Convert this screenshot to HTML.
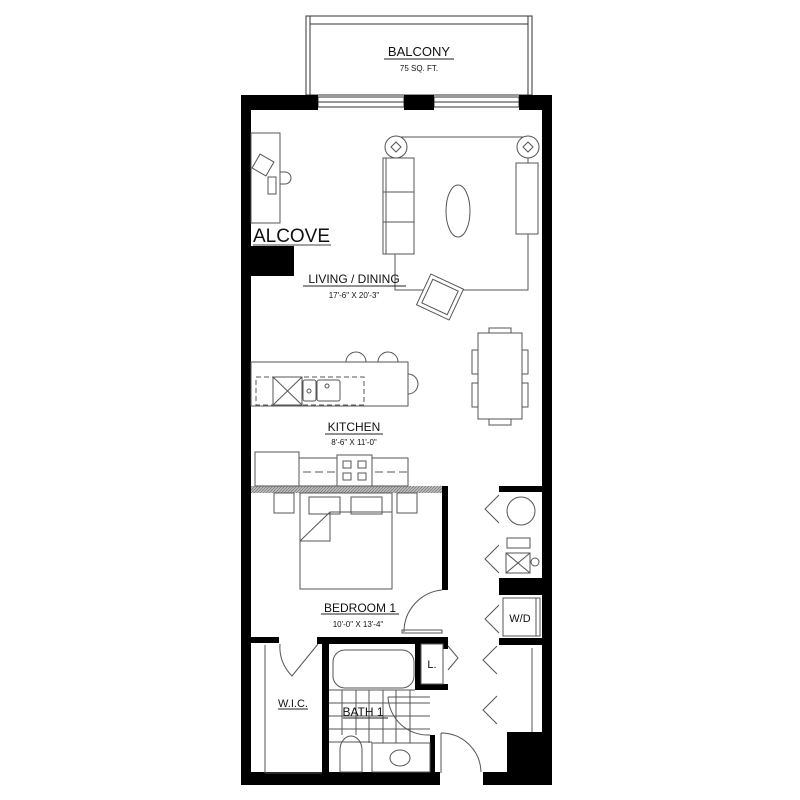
<!DOCTYPE html>
<html><head><meta charset="utf-8"><style>
html,body{margin:0;padding:0;background:#fff;}
svg{display:block;}
text{font-family:"Liberation Sans",sans-serif;fill:#111;}
</style></head><body>
<svg width="800" height="800" viewBox="0 0 800 800" xmlns="http://www.w3.org/2000/svg">
<defs>
<pattern id="hatch" width="3" height="3" patternUnits="userSpaceOnUse"><rect width="3" height="3" fill="#bbb"/><path d="M0 3L3 0" stroke="#666" stroke-width="0.6"/></pattern>
</defs>
<g fill="none" stroke="#333" stroke-width="1">
<rect x="306" y="16" width="226" height="79"/>
<rect x="310" y="16" width="218" height="79"/>
<line x1="310" y1="24" x2="528" y2="24"/>
<rect x="318" y="97" width="86" height="10"/>
<line x1="318" y1="102" x2="404" y2="102"/>
<rect x="434" y="97" width="85" height="10"/>
<line x1="434" y1="102" x2="519" y2="102"/>
</g>
<text x="419" y="56" font-size="13" text-anchor="middle">BALCONY</text>
<line x1="384" y1="59" x2="454" y2="59" stroke="#222"/>
<text x="419" y="71" font-size="8" text-anchor="middle">75 SQ. FT.</text>

<g fill="#000">
<rect x="241" y="95" width="77" height="15"/>
<rect x="404" y="95" width="30" height="15"/>
<rect x="519" y="95" width="33" height="15"/>
<rect x="241" y="95" width="10" height="690"/>
<rect x="542" y="95" width="10" height="690"/>
<rect x="251" y="246" width="43" height="30"/>
<rect x="442" y="486" width="6" height="104"/>
<rect x="499" y="486" width="43" height="6"/>
<rect x="499" y="578" width="43" height="17"/>
<rect x="499" y="638" width="43" height="7"/>
<rect x="241" y="637" width="38" height="6"/>
<rect x="317" y="637" width="131" height="7"/>
<rect x="322" y="637" width="7" height="136"/>
<rect x="415" y="643" width="6" height="47"/>
<rect x="415" y="684" width="33" height="6"/>
<rect x="443" y="637" width="5" height="12"/>
<rect x="241" y="772" width="199" height="13"/>
<rect x="483" y="772" width="69" height="13"/>
<rect x="507" y="732" width="45" height="53"/>
<rect x="430" y="735" width="5" height="37"/>
</g>
<rect x="251" y="486" width="191" height="7" fill="url(#hatch)"/>

<g fill="none" stroke="#555" stroke-width="1">
<rect x="251" y="133" width="29" height="90"/>
<rect x="255" y="157" width="16" height="16" transform="rotate(30 263 165)"/>
<rect x="268" y="177" width="8" height="17"/>
<path d="M280 172 h5 a6 6 0 0 1 0 12 h-5 z"/>
<rect x="395" y="137" width="133" height="153"/>
<rect x="383" y="158" width="31" height="96" fill="#fff"/>
<line x1="383" y1="192" x2="414" y2="192"/><line x1="383" y1="222" x2="414" y2="222"/>
<line x1="386" y1="158" x2="386" y2="254"/>
<circle cx="396" cy="147" r="11" fill="#fff"/><path d="M396 142l5 5-5 5-5-5z"/>
<circle cx="528" cy="147" r="11" fill="#fff"/><path d="M528 142l5 5-5 5-5-5z"/>
<ellipse cx="458" cy="211" rx="12" ry="26"/>
<rect x="516" y="163" width="22" height="71" fill="#fff"/>
<g transform="rotate(25 440 297)"><rect x="422" y="280" width="36" height="34" fill="#fff"/><rect x="426" y="284" width="28" height="26"/></g>
<rect x="251" y="362" width="157" height="44"/>
<rect x="256" y="377" width="108" height="28" stroke-dasharray="5 3"/>
<rect x="273" y="377" width="29" height="28"/><path d="M273 377L302 405M302 377L273 405"/>
<rect x="303" y="380" width="13" height="21" rx="2"/><rect x="317" y="380" width="23" height="21" rx="2"/>
<circle cx="309" cy="391" r="2"/><circle cx="327" cy="386" r="2"/>
<path d="M346 362a10 10 0 0 1 20 0M378 362a10 10 0 0 1 20 0M408 374a10 10 0 0 1 0 20"/>
<rect x="478" y="333" width="44" height="86"/>
<path d="M478 350h-6v24h6M478 383h-6v24h6M522 350h6v24h-6M522 383h6v24h-6M489 333v-5h22v5M489 419v6h22v-6"/>
<rect x="255" y="458" width="153" height="28"/>
<line x1="255" y1="472" x2="408" y2="472" stroke-dasharray="8 4"/>
<rect x="255" y="452" width="44" height="34" fill="#fff"/>
<rect x="337" y="455" width="35" height="31" fill="#fff"/>
<rect x="343" y="461" width="8" height="7"/><rect x="358" y="461" width="8" height="7"/><rect x="343" y="473" width="8" height="7"/><rect x="358" y="473" width="8" height="7"/>
<rect x="274" y="493" width="20" height="20"/><rect x="397" y="493" width="20" height="20"/>
<rect x="300" y="493" width="92" height="96"/>
<rect x="309" y="497" width="31" height="17"/><rect x="351" y="497" width="31" height="17"/>
<path d="M300 541 L330 512 H392 M330 512 V541 H300"/>
<circle cx="521" cy="511" r="14"/>
<rect x="507" y="538" width="23" height="10"/><rect x="506" y="553" width="24" height="20"/><path d="M506 553l24 20M530 553l-24 20"/>
<circle cx="535" cy="562" r="4"/>
<path d="M499 495l-14 14 14 14M499 545l-14 14 14 14M499 605l-14 14 14 14M497 646l-14 14 14 14M497 696l-14 14 14 14M448 646l10 12-10 12"/>
<rect x="503" y="598" width="37" height="38"/>
<line x1="536" y1="598" x2="536" y2="636"/>
<path d="M532 648v84M265 645v128M265 773h57"/>
<path d="M442 590a42 42 0 0 0-38 42"/><rect x="402" y="630" width="40" height="3"/>
<path d="M280 644a40 40 0 0 0 12 32L318 644"/>
<path d="M441 733v40M441 733a40 40 0 0 1 40 39"/>
<path d="M388 697a40 40 0 0 0 42 38"/><line x1="388" y1="697" x2="430" y2="697"/>
<rect x="333" y="650" width="81" height="38" rx="12"/>
<path d="M329 690h86M329 703h101M329 716h101M329 729h101M329 742h43M342 690v45M356 690v45M369 690v53M383 690v53M396 690v53M410 690v53"/>
<rect x="372" y="743" width="58" height="29"/>
<ellipse cx="400" cy="758" rx="10" ry="8"/>
<path d="M340 772v-22a11 14 0 0 1 22 0v22z"/>
<rect x="421" y="644" width="22" height="40"/>
</g>

<text x="253" y="242" font-size="19" fill="#444" textLength="77" lengthAdjust="spacingAndGlyphs">ALCOVE</text>
<line x1="253" y1="245" x2="331" y2="245" stroke="#444"/>
<text x="354" y="283" font-size="12" text-anchor="middle">LIVING / DINING</text>
<line x1="303" y1="286" x2="406" y2="286" stroke="#222"/>
<text x="354" y="298" font-size="8" text-anchor="middle">17'-6" X 20'-3"</text>
<text x="354" y="431" font-size="12" text-anchor="middle">KITCHEN</text>
<line x1="325" y1="434" x2="383" y2="434" stroke="#222"/>
<text x="354" y="445" font-size="8" text-anchor="middle">8'-6" X 11'-0"</text>
<text x="360" y="612" font-size="12" text-anchor="middle">BEDROOM 1</text>
<line x1="321" y1="614" x2="399" y2="614" stroke="#222"/>
<text x="358" y="627" font-size="8" text-anchor="middle">10'-0" X 13'-4"</text>
<text x="293" y="707" font-size="11" text-anchor="middle">W.I.C.</text>
<line x1="278" y1="709" x2="308" y2="709" stroke="#222"/>
<text x="363" y="716" font-size="12" text-anchor="middle">BATH 1</text>
<line x1="343" y1="718" x2="388" y2="718" stroke="#222"/>
<text x="432" y="668" font-size="11" text-anchor="middle">L.</text>
<text x="520" y="622" font-size="11" text-anchor="middle">W/D</text>
</svg>
</body></html>
